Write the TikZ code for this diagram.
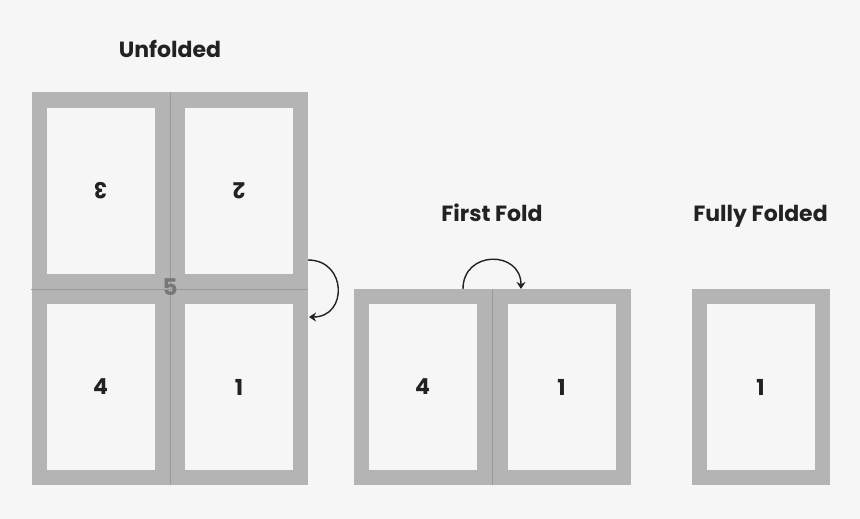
\documentclass[tikz,border=0pt]{standalone}
\usepackage{fontspec}
\setmainfont{Poppins}
\usepackage{tikz}
\usetikzlibrary{arrows.meta}
\definecolor{bggray}{HTML}{F6F6F6}
\definecolor{framegray}{HTML}{B4B4B4}
\definecolor{foldgray}{HTML}{9A9A9A}
\definecolor{inkgray}{HTML}{222222}
\definecolor{numgray}{HTML}{777777}

\begin{document}
\begin{tikzpicture}[x=1pt,y=-1pt,>={Stealth[length=7pt,width=9pt]},
  panel/.style={draw=framegray,line width=15pt,fill=bggray,inner sep=0pt,
    minimum width=123pt,minimum height=181pt,text=inkgray,font=\bfseries\fontsize{22}{22}\selectfont},
  title/.style={anchor=base,text=inkgray,font=\bfseries\fontsize{22}{22}\selectfont},
  foldline/.style={foldgray,line width=1pt},
  foldarrow/.style={->,inkgray,line width=1.4pt}]
  \fill[bggray] (0,0) rectangle (860,519);
  \useasboundingbox (0,0) rectangle (860,519);
  % Unfolded sheet
  \node[panel,rotate=180] (u3) at (100.5,190.5) {3};
  \node[panel,rotate=180] (u2) at (239,190.5) {2};
  \node[panel] (u4) at (100.5,387) {4};
  \node[panel] (u1) at (239,387) {1};
  \draw[foldline] (170,92) -- (170,485);
  \draw[foldline] (31,289) -- (308,289);
  \node[text=numgray,font=\bfseries\fontsize{23}{23}\selectfont] (n5) at (170,287) {5};
  % First fold
  \node[panel] (f4) at (422.5,387) {4};
  \node[panel] (f1) at (561.5,387) {1};
  \draw[foldline] (492,289) -- (492,485);
  % Fully folded
  \node[panel] (d1) at (760.5,387) {1};
  % Titles
  \node[title] (tu) at (170,58) {Unfolded};
  \node[title] (tf) at (492,221) {First Fold};
  \node[title] (td) at (760.5,221) {Fully Folded};
  % Fold arrows
  \coordinate (a1s) at (308,260);
  \coordinate (a1e) at (309,317);
  \coordinate (a2s) at (463,289);
  \coordinate (a2e) at (521,289);
  \draw[foldarrow] (a1s) .. controls +(39,0) and +(39,0) .. (a1e);
  \draw[foldarrow] (a2s) .. controls +(0,-39) and +(0,-39) .. (a2e);
\end{tikzpicture}
\end{document}
